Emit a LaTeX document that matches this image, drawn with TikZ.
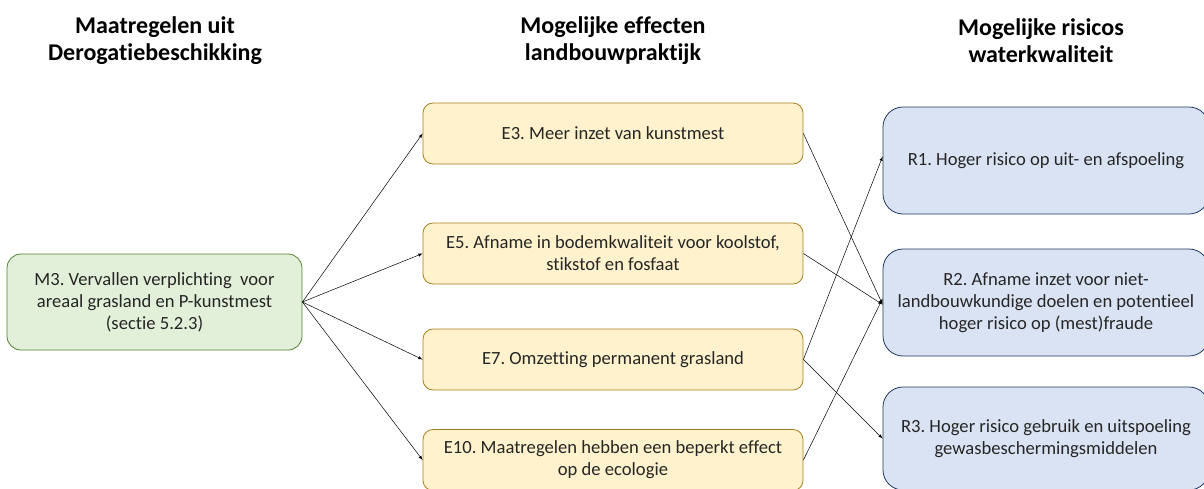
\documentclass[tikz,border=0pt]{standalone}
\usepackage{fontspec}
\setmainfont{Carlito}[Ligatures=NoCommon]
\frenchspacing
\usetikzlibrary{arrows}
\definecolor{grassfill}{RGB}{226, 240, 217}
\definecolor{grassline}{RGB}{84, 130, 53}
\definecolor{sandfill}{RGB}{255, 242, 204}
\definecolor{sandline}{RGB}{166, 128, 30}
\definecolor{waterfill}{RGB}{218, 227, 243}
\definecolor{waterline}{RGB}{32, 56, 100}
\definecolor{inkgray}{RGB}{38, 38, 38}
\tikzset{
    kop/.style={font=\bfseries\fontsize{24}{27}\selectfont, align=center, text=black},
    vak/.style={thick, align=center, inner sep=0pt, text=inkgray, font=\fontsize{18.6}{22}\selectfont},
    maatregel/.style={vak, draw=grassline, fill=grassfill, rounded corners=14pt, minimum width=295pt, minimum height=96pt},
    effect/.style={vak, draw=sandline, fill=sandfill, rounded corners=10pt, minimum width=380pt, minimum height=61pt},
    risico/.style={vak, draw=waterline, fill=waterfill, rounded corners=20pt, minimum width=326pt},
    pijl/.style={-latex, black, line width=0.5pt}
}
\begin{document}
\begin{tikzpicture}[x=1pt, y=-1pt]
            % Frame to fix the page:
            \useasboundingbox                                    (0, 0) rectangle (1204, 488);
            % Column titles
            \node[kop] (kopM) at ( 155,  41) {Maatregelen uit\\Derogatiebeschikking};
            \node[kop] (kopE) at ( 613,  41) {Mogelijke effecten\\landbouwpraktijk};
            \node[kop] (kopR) at (1041,  41) {Mogelijke risicos\\waterkwaliteit};
            % Measure
            \node[maatregel] (M3)  at ( 154.5, 302) {M3. Vervallen verplichting\ \ voor\\areaal grasland en P-kunstmest\\(sectie 5.2.3)};
            % Effects
            \node[effect] (E3)  at ( 613, 133.5) {E3. Meer inzet van kunstmest};
            \node[effect] (E5)  at ( 613, 253.5) {E5. Afname in bodemkwaliteit voor koolstof,\\stikstof en fosfaat};
            \node[effect] (E7)  at ( 613, 359.5) {E7. Omzetting permanent grasland};
            \node[effect] (E10) at ( 613, 460.0) {E10. Maatregelen hebben een beperkt effect\\op de ecologie};
            % Risks
            \node[risico, minimum height=107pt] (R1) at (1046, 160.5) {R1. Hoger risico op uit- en afspoeling};
            \node[risico, minimum height=107pt] (R2) at (1046, 302.5) {R2. Afname inzet voor niet-\\landbouwkundige doelen en potentieel\\hoger risico op (mest)fraude};
            \node[risico, minimum height=103pt] (R3) at (1046, 438.5) {R3. Hoger risico gebruik en uitspoeling\\gewasbeschermingsmiddelen};
            % Measure -> effects
            \foreach \e in {E3, E5, E7, E10}
                \draw[pijl] (M3.east) -- (\e.west);
            % Effects -> risks
            \draw[pijl] (E3.east)  -- ([yshift=-2pt]R2.west);
            \draw[pijl] (E5.east)  -- ([yshift=-2pt]R2.west);
            \draw[pijl] (E10.east) -- ([yshift=4pt]R2.west);
            \draw[pijl] (E7.east)  -- ([yshift=4pt]R1.west);
            \draw[pijl] (E7.east)  -- (R3.west);
        \end{tikzpicture}
\end{document}
